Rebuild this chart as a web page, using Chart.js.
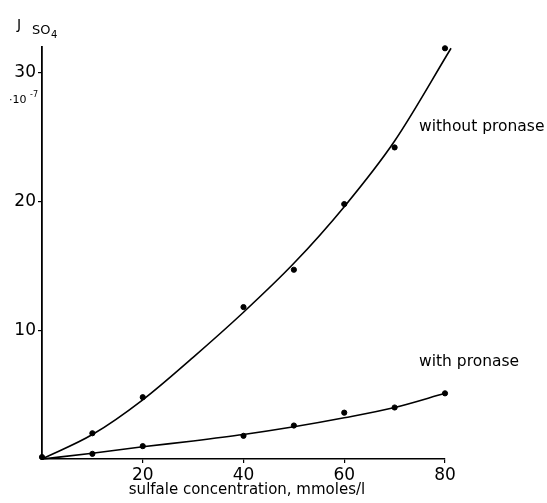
<!DOCTYPE html>
<html><head><meta charset="utf-8">
<script src="https://cdn.jsdelivr.net/npm/chart.js@4/dist/chart.umd.min.js"></script>
<style>html,body{margin:0;padding:0;background:#fff}#c{display:block}</style>
</head><body>
<canvas id="c" width="547" height="503"></canvas>
<script>
const concentrations = [0, 10, 20, 40, 50, 60, 70, 80];
const withoutPronase = [0.15, 2.0, 4.8, 11.8, 14.7, 19.8, 24.2, 31.9];
const withPronase = [0.0, 0.4, 1.0, 1.8, 2.6, 3.6, 4.0, 5.1];
const fitWithoutX = [0, 10, 20, 30, 40, 50, 60, 70, 81.2];
const fitWithoutY = [0, 1.9, 4.6, 7.9, 11.4, 15.2, 19.6, 24.7, 31.9];
const fitWithX = [0, 10, 20, 30, 40, 50, 60, 70, 80];
const fitWithY = [0, 0.45, 0.95, 1.4, 1.9, 2.5, 3.2, 4.0, 5.1];
const xTicks = [20, 40, 60, 80];
const yTicks = [10, 20, 30];

const pts = (xs, ys) => xs.map((x, i) => ({x, y: ys[i]}));
const FONT = "'DejaVu Sans', sans-serif";

const labelsPlugin = {
  id: 'labels',
  afterDraw(chart) {
    const ctx = chart.ctx;
    ctx.save();
    ctx.fillStyle = '#000';
    ctx.textBaseline = 'alphabetic';
    ctx.textAlign = 'left';
    ctx.font = '14px ' + FONT;
    ctx.fillText('J', 17, 29);
    ctx.font = '13px ' + FONT;
    ctx.fillText('SO', 32, 34);
    ctx.font = '10px ' + FONT;
    ctx.fillText('4', 51, 38);
    ctx.font = '11px ' + FONT;
    ctx.fillText('\u00b710', 9, 103);
    ctx.font = '8px ' + FONT;
    ctx.fillText('-7', 30, 97);
    ctx.font = '15.5px ' + FONT;
    ctx.fillText('without pronase', 419, 131);
    ctx.fillText('with pronase', 419, 366);
    ctx.font = '15px ' + FONT;
    ctx.textAlign = 'center';
    ctx.fillText('sulfale concentration, mmoles/l', 247, 494);
    ctx.restore();
  }
};

new Chart(document.getElementById('c'), {
  type: 'scatter',
  data: {
    datasets: [
      {data: pts(fitWithoutX, fitWithoutY), showLine: true, borderColor: '#000', borderWidth: 1.6, pointRadius: 0, cubicInterpolationMode: 'monotone', fill: false},
      {data: pts(fitWithX, fitWithY), showLine: true, borderColor: '#000', borderWidth: 1.6, pointRadius: 0, cubicInterpolationMode: 'monotone', fill: false},
      {data: pts(concentrations, withoutPronase), pointRadius: 2.6, pointBackgroundColor: '#000', pointBorderColor: '#000', showLine: false},
      {data: pts(concentrations.slice(1), withPronase.slice(1)), pointRadius: 2.6, pointBackgroundColor: '#000', pointBorderColor: '#000', showLine: false}
    ]
  },
  options: {
    responsive: false,
    animation: false,
    clip: false,
    layout: {padding: {top: 47, right: 102, left: 0, bottom: 0}},
    plugins: {legend: {display: false}, tooltip: {enabled: false}},
    scales: {
      x: {
        type: 'linear', min: 0, max: 80,
        afterBuildTicks: s => { s.ticks = xTicks.map(v => ({value: v})); },
        afterFit: s => { s.height = 44; },
        border: {color: '#000', width: 1.6},
        grid: {drawOnChartArea: false, color: '#000', tickLength: 4, lineWidth: 1.2},
        ticks: {color: '#000', font: {family: FONT, size: 17}, padding: 2, maxRotation: 0}
      },
      y: {
        type: 'linear', min: 0, max: 32,
        afterBuildTicks: s => { s.ticks = yTicks.map(v => ({value: v})); },
        afterFit: s => { s.width = 42; },
        border: {color: '#000', width: 1.8},
        grid: {drawOnChartArea: false, color: '#000', tickLength: 4, lineWidth: 1.2},
        ticks: {color: '#000', font: {family: FONT, size: 17}, padding: 2}
      }
    }
  },
  plugins: [labelsPlugin]
});
</script>
</body></html>
